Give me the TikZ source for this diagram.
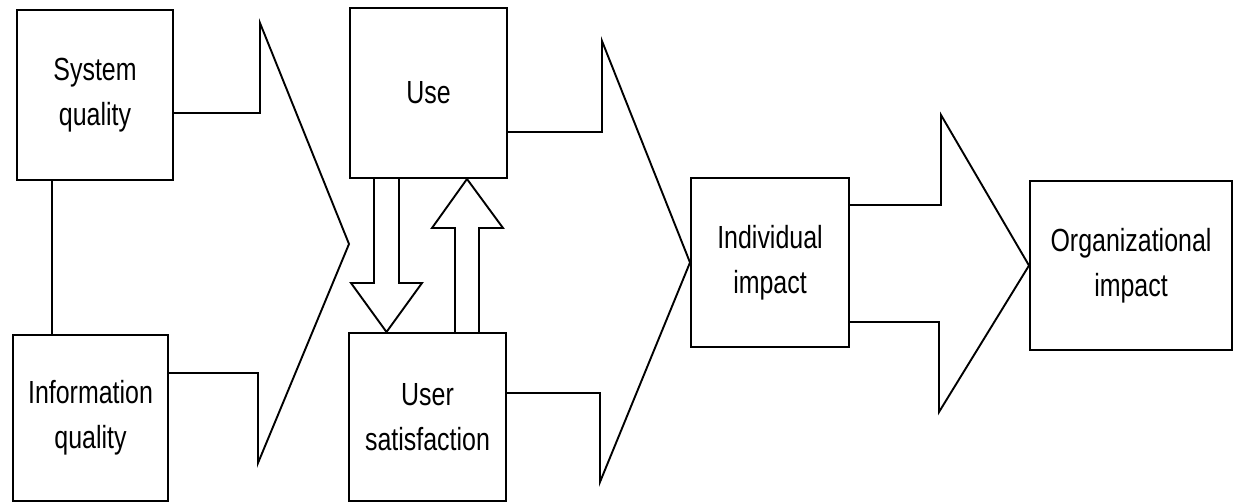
\documentclass[tikz,border=0pt]{standalone}
\usepackage{fontspec}
\setmainfont{Liberation Sans}[FakeStretch=0.78]
\usetikzlibrary{calc}
\begin{document}
\begin{tikzpicture}[x=1pt,y=-1pt,
  box/.style={draw, line width=2pt, inner sep=0pt, align=center,
              font=\fontsize{32}{45}\selectfont},
  flow/.style={draw, line width=1.9pt, line join=miter}]
\useasboundingbox (0,0) rectangle (1234,503);

% the six constructs
\node[box, minimum width=156pt, minimum height=170pt] (sysq) at (95,95)    {System\\quality};
\node[box, minimum width=155pt, minimum height=166pt] (infq) at (90.5,418) {Information\\quality};
\node[box, minimum width=157pt, minimum height=170pt] (usen) at (428.5,93) {Use};
\node[box, minimum width=157pt, minimum height=168pt] (usat) at (427.5,417) {User\\satisfaction};
\node[box, minimum width=158pt, minimum height=169pt] (indi) at (770,262.5) {Individual\\impact};
\node[box, minimum width=202pt, minimum height=169pt] (orgi) at (1131,265.5) {Organizational\\impact};

% link between the two quality boxes
\draw[flow] (sysq.south -| 52,0) -- (infq.north -| 52,0);

% quality -> use / satisfaction
\draw[flow] (sysq.east |- 0,113) -- (260,113) -- (260,23)
  -- (usen.west |- 0,244) -- (258,463) -- (258,373) -- (infq.east |- 0,373);

% use <-> user satisfaction
\draw[flow] (usen.south -| 374,0) -- (374,283) -- (351,283)
  -- (usat.north -| 386.5,0) -- (422,283) -- (399,283) -- (usen.south -| 399,0);
\draw[flow] (usat.north -| 455,0) -- (455,228) -- (432,228)
  -- (usen.south -| 467,0) -- (503,228) -- (479,228) -- (usat.north -| 479,0);

% use / satisfaction -> individual impact
\draw[flow] (usen.east |- 0,132) -- (602,132) -- (602,41)
  -- (indi.west) -- (600,482) -- (600,393) -- (usat.east |- 0,393);

% individual impact -> organizational impact
\draw[flow] (indi.east |- 0,205) -- (941,205) -- (941,115)
  -- (orgi.west) -- (939,412) -- (939,322) -- (indi.east |- 0,322);
\end{tikzpicture}
\end{document}
